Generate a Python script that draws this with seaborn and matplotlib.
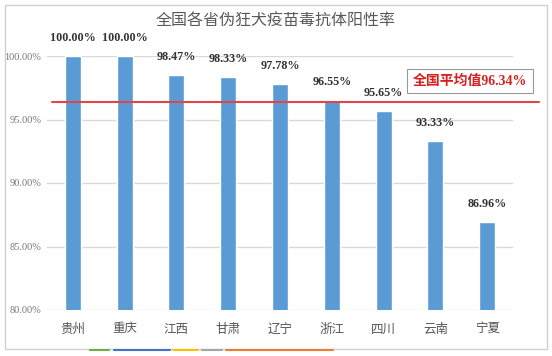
import matplotlib
matplotlib.use("Agg")
import matplotlib.pyplot as plt
import seaborn as sns
import pandas as pd
from matplotlib.patches import Rectangle
from matplotlib.lines import Line2D

provinces = ["贵州", "重庆", "江西", "甘肃", "辽宁", "浙江", "四川", "云南", "宁夏"]
rates = [100.00, 100.00, 98.47, 98.33, 97.78, 96.55, 95.65, 93.33, 86.96]
national_avg = 96.34
yticks = [80, 85, 90, 95, 100]
title = "全国各省伪狂犬疫苗毒抗体阳性率"

sns.set_theme(style="white")
plt.rcParams['font.family'] = ['Noto Sans CJK SC', 'DejaVu Sans']

df = pd.DataFrame({"province": provinces, "rate": rates})

fig = plt.figure(figsize=(5.52, 3.56), dpi=100)
ax = fig.add_axes([47/552, 1 - 310/356, (513-47)/552, (310-56)/356])

sns.barplot(data=df, x="province", y="rate", color="#5B9BD5", width=0.31,
            saturation=1, ax=ax, zorder=3)
ax.set_ylim(80, 100)
ax.set_xlim(-0.5, len(provinces) - 0.5)
ax.set_yticks(yticks)
ax.set_yticklabels([f"{v:.2f}%" for v in yticks], family=['Liberation Serif'],
                   fontsize=7.5, color="#777777")
ax.set_xticks(range(len(provinces)))
ax.set_xticklabels(provinces, fontsize=9, color="#555555")
ax.tick_params(axis='y', length=0, pad=4)
ax.tick_params(axis='x', length=0, pad=9)
ax.set_xlabel("")
ax.set_ylabel("")
for v in yticks:
    ax.axhline(v, color="#D9D9D9", lw=1, zorder=1)
for s in ax.spines.values():
    s.set_visible(False)

for i, v in enumerate(rates):
    ax.text(i, v + 0.95, f"{v:.2f}%", ha="center", va="bottom", fontsize=8.7,
            fontweight="bold", family=['Liberation Serif'], color="#333333",
            clip_on=False)

ax.plot([-0.4, 9.0], [national_avg, national_avg], color="#E0454A", lw=1.5,
        zorder=4, clip_on=False)

fig.text(470/552, 1 - 81/356, "全国平均值96.34%", ha="center", va="center",
         fontsize=10, fontweight="bold",
         family=['Liberation Serif', 'Noto Sans CJK SC'], color="#D62020",
         bbox=dict(boxstyle="square,pad=0.4", fc="white", ec="#999999", lw=0.8))

fig.text(0.5, 1 - 21/356, title, ha="center", va="center", fontsize=11.5,
         color="#595959")

# outer frame
fig.add_artist(Rectangle((5/552, 1 - 349/356), 542/552, 344/356,
                         transform=fig.transFigure, fill=False,
                         ec="#D0D0D0", lw=1))
# clipped legend marks at bottom
segs = [(90, 109, "#70AD47"), (114, 170, "#4472C4"), (173, 198, "#FFC000"),
        (202, 222, "#A5A5A5"), (226, 333, "#ED7D31")]
for x0, x1, c in segs:
    fig.add_artist(Line2D([x0/552, x1/552], [1 - 350/356, 1 - 350/356],
                          transform=fig.transFigure, color=c, lw=1.5))

fig.savefig("out.png", dpi=100)
